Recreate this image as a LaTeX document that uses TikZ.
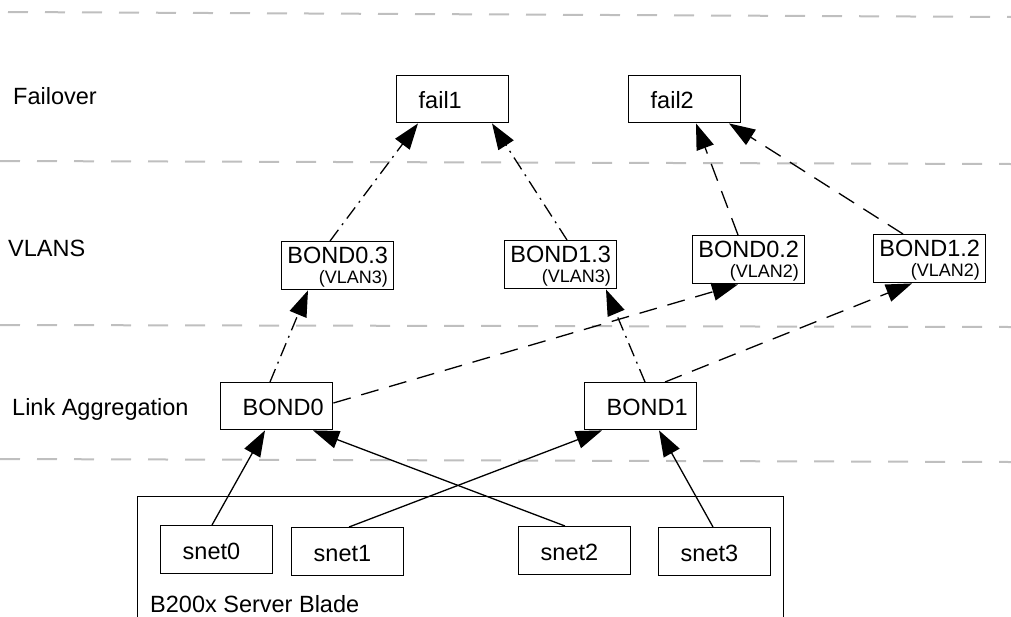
\documentclass[tikz,border=0pt]{standalone}
\usepackage{fontspec}
\setmainfont{Liberation Sans}
\usetikzlibrary{arrows.meta}
\begin{document}
\begin{tikzpicture}[x=1pt,y=-1pt,
  every node/.style={font=\fontsize{23.5}{28}\selectfont},
  sep/.style={draw=gray!50, line width=2pt, dash pattern=on 20pt off 17pt},
  box/.style={draw, line width=1.4pt, anchor=north west, text width=68pt, inner xsep=22pt, inner ysep=0pt, align=left, minimum height=47pt, text height=19pt, text depth=0pt},
  vbox/.style={draw, line width=1.4pt, anchor=north west, minimum width=112pt, minimum height=48pt, inner sep=0pt, text height=22pt, text depth=26pt},
  lbl/.style={anchor=base west, inner sep=0pt},
  link/.style={line width=1.3pt, -{Triangle[length=26pt,width=18pt]}},
  dashdot/.style={link, dash pattern=on 14pt off 6pt on 2pt off 6pt},
  dashlong/.style={link, dash pattern=on 18pt off 11pt},
]
\useasboundingbox (0,0) rectangle (1011,616);

% layer separators
\draw[sep] (8,12) -- (1011,17);
\draw[sep] (0,161) -- (1011,164);
\draw[sep] (0,325) -- (1011,327);
\draw[sep] (0,459) -- (1011,462);

% layer labels
\node[lbl] (lfail) at (13,104) {Failover};
\node[lbl] (lvlan) at (8,256) {VLANS};
\node[lbl] (llink) at (12,415) {Link Aggregation};

% server blade
\node[draw, line width=1.4pt, anchor=north west, minimum width=646pt, minimum height=135pt, inner sep=0pt] (blade) at (137,496) {};
\node[lbl] (bladelbl) at (150,612) {B200x Server Blade};

% failover
\node[box] (fail1) at (396,75) {fail1};
\node[box] (fail2) at (628,75) {fail2};

% vlans
\node[vbox] (b03) at (281,241) {\begin{tabular}[t]{@{}l@{}}BOND0.3\\[-8pt]\hfill\fontsize{18}{20}\selectfont(VLAN3)\end{tabular}};
\node[vbox] (b13) at (504,240) {\begin{tabular}[t]{@{}l@{}}BOND1.3\\[-8pt]\hfill\fontsize{18}{20}\selectfont(VLAN3)\end{tabular}};
\node[vbox] (b02) at (692,235) {\begin{tabular}[t]{@{}l@{}}BOND0.2\\[-8pt]\hfill\fontsize{18}{20}\selectfont(VLAN2)\end{tabular}};
\node[vbox] (b12) at (873,234) {\begin{tabular}[t]{@{}l@{}}BOND1.2\\[-8pt]\hfill\fontsize{18}{20}\selectfont(VLAN2)\end{tabular}};

% link aggregation
\node[box] (bond0) at (220,382) {BOND0};
\node[box] (bond1) at (584,382) {BOND1};

% server nets
\node[box, minimum height=48pt] (snet0) at (160,525) {snet0};
\node[box, minimum height=48pt] (snet1) at (291,527) {snet1};
\node[box, minimum height=48pt] (snet2) at (518,526) {snet2};
\node[box, minimum height=48pt] (snet3) at (658,527) {snet3};

% solid links
\draw[link] ([xshift=52pt]snet0.north west) -- ([xshift=45pt]bond0.south west);
\draw[link] ([xshift=58pt]snet1.north west) -- ([xshift=18pt]bond1.south west);
\draw[link] ([xshift=47pt]snet2.north west) -- ([xshift=93pt]bond0.south west);
\draw[link] ([xshift=55pt]snet3.north west) -- ([xshift=75pt]bond1.south west);

% bonds to vlans
\draw[dashdot] ([xshift=50pt]bond0.north west) -- ([xshift=27pt]b03.south west);
\draw[dashlong] ([yshift=-21pt]bond0.north east) -- ([xshift=46pt]b02.south west);
\draw[dashdot] ([xshift=61pt]bond1.north west) -- ([xshift=102pt]b13.south west);
\draw[dashlong] ([xshift=81pt]bond1.north west) -- ([xshift=39pt]b12.south west);

% vlans to failover
\draw[dashdot] ([xshift=49pt]b03.north west) -- ([xshift=22pt]fail1.south west);
\draw[dashdot] ([xshift=63pt]b13.north west) -- ([xshift=96pt]fail1.south west);
\draw[dashlong] ([xshift=46pt]b02.north west) -- ([xshift=68pt]fail2.south west);
\draw[dashlong] ([xshift=30pt]b12.north west) -- ([xshift=101pt]fail2.south west);
\end{tikzpicture}
\end{document}
